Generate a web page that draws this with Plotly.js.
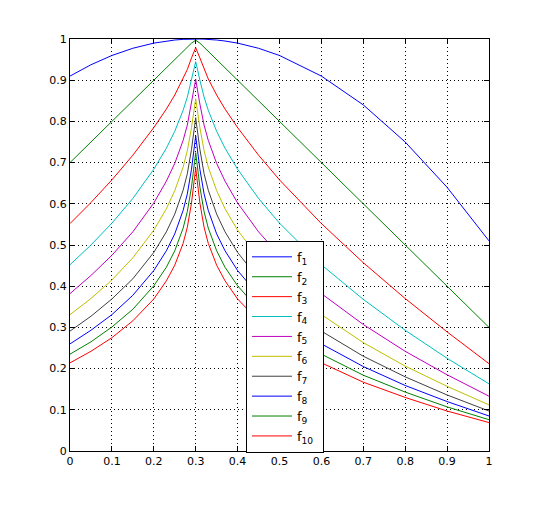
<!DOCTYPE html>
<html>
<head>
<meta charset="utf-8">
<script src="https://cdn.plot.ly/plotly-3.0.1.min.js"></script>
<style>html,body{margin:0;padding:0;background:#fff;}#chart{width:540px;height:507px;}</style>
</head>
<body>
<div id="chart"></div>
<script>
var xValues = [0, 0.05, 0.1, 0.15, 0.2, 0.23, 0.25, 0.27, 0.28, 0.29, 0.3, 0.31, 0.32, 0.33, 0.35, 0.37, 0.4, 0.45, 0.5, 0.6, 0.7, 0.8, 0.9, 1.0];
var f1 = [0.91,0.9375,0.96,0.9775,0.99,0.9951,0.9975,0.9991,0.9996,0.9999,1.0,0.9999,0.9996,0.9991,0.9975,0.9951,0.99,0.9775,0.96,0.91,0.84,0.75,0.64,0.51];
var f2 = [0.7,0.75,0.8,0.85,0.9,0.93,0.95,0.97,0.98,0.99,0.997,0.99,0.98,0.97,0.95,0.93,0.9,0.85,0.8,0.7,0.6,0.5,0.4,0.3];
var f3 = [0.552,0.603,0.658,0.718,0.785,0.830,0.864,0.903,0.926,0.954,0.979,0.954,0.926,0.903,0.864,0.830,0.785,0.718,0.658,0.552,0.457,0.370,0.289,0.212];
var f4 = [0.452,0.5,0.553,0.613,0.684,0.735,0.776,0.827,0.859,0.9,0.945,0.9,0.859,0.827,0.776,0.735,0.684,0.613,0.553,0.452,0.368,0.293,0.225,0.163];
var f5 = [0.382,0.426,0.475,0.532,0.602,0.655,0.698,0.754,0.791,0.842,0.902,0.842,0.791,0.754,0.698,0.655,0.602,0.532,0.475,0.382,0.307,0.242,0.185,0.133];
var f6 = [0.331,0.370,0.415,0.469,0.536,0.588,0.632,0.689,0.729,0.785,0.855,0.785,0.729,0.689,0.632,0.588,0.536,0.469,0.415,0.331,0.263,0.206,0.157,0.112];
var f7 = [0.291,0.327,0.369,0.418,0.482,0.532,0.575,0.633,0.673,0.732,0.809,0.732,0.673,0.633,0.575,0.532,0.482,0.418,0.369,0.291,0.230,0.180,0.136,0.097];
var f8 = [0.260,0.293,0.331,0.378,0.438,0.486,0.527,0.584,0.624,0.684,0.765,0.684,0.624,0.584,0.527,0.486,0.438,0.378,0.331,0.260,0.205,0.159,0.120,0.085];
var f9 = [0.235,0.265,0.301,0.344,0.401,0.446,0.486,0.541,0.581,0.641,0.724,0.641,0.581,0.541,0.486,0.446,0.401,0.344,0.301,0.235,0.184,0.143,0.107,0.076];
var f10 = [0.214,0.242,0.275,0.316,0.369,0.413,0.451,0.504,0.543,0.602,0.687,0.602,0.543,0.504,0.451,0.413,0.369,0.316,0.275,0.214,0.167,0.130,0.097,0.069];
var seriesNames = ['f<sub>1</sub>','f<sub>2</sub>','f<sub>3</sub>','f<sub>4</sub>','f<sub>5</sub>','f<sub>6</sub>','f<sub>7</sub>','f<sub>8</sub>','f<sub>9</sub>','f<sub>10</sub>'];
var tickVals = [0,0.1,0.2,0.3,0.4,0.5,0.6,0.7,0.8,0.9,1];
var tickLabels = ['0','0.1','0.2','0.3','0.4','0.5','0.6','0.7','0.8','0.9','1'];

var series = [f1,f2,f3,f4,f5,f6,f7,f8,f9,f10];
var colors = ['#0000ff','#008000','#ff0000','#00bfbf','#bf00bf','#bfbf00','#404040','#0000ff','#008000','#ff0000'];
var traces = series.map(function(s,i){
  return {x:xValues, y:s, type:'scatter', mode:'lines', name:seriesNames[i] + '\u00a0',
          line:{color:colors[i], width:1}};
});

var axisCommon = {
  range:[0,1], tickvals:tickVals, ticktext:tickLabels,
  showgrid:true, gridcolor:'#000000', griddash:'1px,3px', gridwidth:1,
  zeroline:false, showline:true, linecolor:'#000000', linewidth:1, mirror:'ticks',
  ticks:'inside', ticklen:5, tickcolor:'#000000',
  tickfont:{family:'DejaVu Sans', size:11, color:'#000000'}
};
var layout = {
  width:540, height:507,
  margin:{l:70, r:51, t:39, b:56},
  paper_bgcolor:'#ffffff', plot_bgcolor:'#ffffff',
  showlegend:true,
  xaxis:Object.assign({}, axisCommon),
  yaxis:Object.assign({}, axisCommon),
  legend:{x:0.42, y:0.51, xanchor:'left', yanchor:'top',
          bgcolor:'#ffffff', bordercolor:'#000000', borderwidth:1,
          font:{family:'DejaVu Sans', size:13, color:'#000000'},
          itemwidth:40, tracegroupgap:0}
};
Plotly.newPlot('chart', traces, layout, {displayModeBar:false, staticPlot:true});
</script>
</body>
</html>
